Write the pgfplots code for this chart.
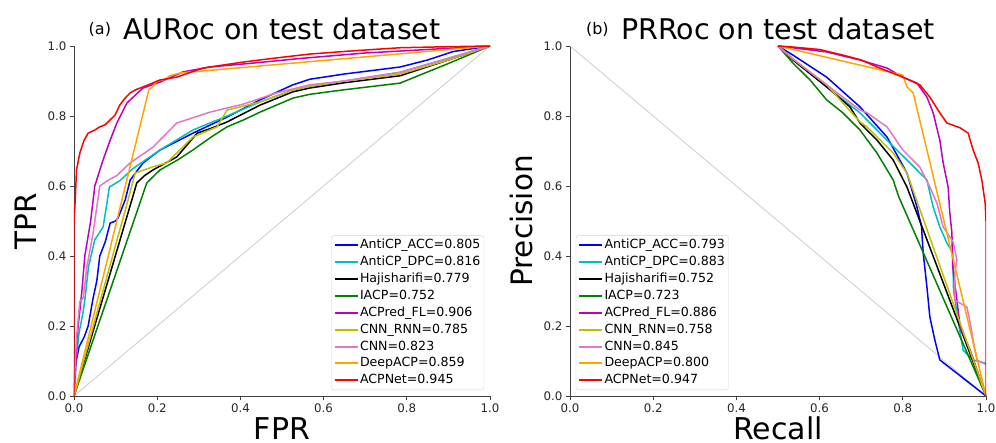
\documentclass[border=0pt]{standalone}
\usepackage{fontspec}
\setmainfont{DejaVu Sans}
\usepackage{pgfplots}
\pgfplotsset{compat=1.18}
\definecolor{lnblue}{rgb}{0,0,1}
\definecolor{lncyan}{rgb}{0,0.75,0.75}
\definecolor{lnblack}{rgb}{0,0,0}
\definecolor{lngreen}{rgb}{0,0.5,0}
\definecolor{lnmag}{rgb}{0.75,0,0.75}
\definecolor{lnolive}{rgb}{0.75,0.75,0}
\definecolor{lnpink}{rgb}{0.89,0.467,0.76}
\definecolor{lnorange}{rgb}{1,0.647,0}
\definecolor{lnred}{rgb}{1,0,0}
\definecolor{ticktext}{rgb}{0.15,0.15,0.15}
\pgfplotsset{
  panel/.style={
    scale only axis, width=416bp, height=350bp,
    xmin=0, xmax=1, ymin=0, ymax=1,
    clip mode=individual,
    axis x line*=bottom, axis y line*=left,
    axis line style={line width=0.9bp, black!75},
    tick align=outside, major tick length=4bp,
    tick style={line width=0.9bp, black!75},
    xtick={0,0.2,0.4,0.6,0.8,1}, ytick={0,0.2,0.4,0.6,0.8,1},
    /pgf/number format/assume math mode=true,
    /pgf/number format/fixed, /pgf/number format/fixed zerofill, /pgf/number format/precision=1,
    ticklabel style={font=\fontsize{11.8bp}{13bp}\selectfont, text=ticktext},
    xlabel style={at={(axis description cs:0.5,-0.125)}, anchor=base, font=\fontsize{30bp}{36bp}\selectfont},
    ylabel style={at={(axis description cs:-0.089,0.5)}, anchor=base, font=\fontsize{29.5bp}{36bp}\selectfont},
    every axis plot/.append style={line width=1.5bp},
    legend cell align=left,
    legend image code/.code={\draw[#1, line width=2bp] (0bp,0bp) -- (23bp,0bp);},
    legend style={font=\fontsize{12.6bp}{15bp}\selectfont, draw=black!18, rounded corners=2.5bp,
      inner xsep=2bp, inner ysep=2bp, row sep=1.9bp, fill=white,
      nodes={inner sep=1.5bp, text height=9.5bp, text depth=2.5bp}},
  }
}
\begin{document}
\begin{tikzpicture}
\path[use as bounding box] (-74bp,-47bp) rectangle (922bp,396bp);
\begin{axis}[panel, xlabel={FPR}, ylabel={TPR},
  legend style={at={(axis description cs:0.986,0.017)}, anchor=south east}]
\addplot[black!20, line width=0.8bp, forget plot] coordinates {(0,0)(1,1)};
\addplot[lnblue] coordinates {(0,0)(0.002,0.08)(0.012,0.14)(0.025,0.17)(0.034,0.2)(0.046,0.28)(0.055,0.33)(0.062,0.4)(0.075,0.44)(0.087,0.494)(0.1,0.5)(0.106,0.509)(0.123,0.56)(0.135,0.617)(0.166,0.666)(0.207,0.703)(0.286,0.751)(0.368,0.797)(0.447,0.846)(0.526,0.889)(0.567,0.905)(0.65,0.92)(0.784,0.94)(0.85,0.96)(0.911,0.984)(1,1)};
\addlegendentry{AntiCP\_ACC=0.805}
\addplot[lncyan] coordinates {(0,0)(0.005,0.1)(0.012,0.18)(0.022,0.24)(0.026,0.274)(0.035,0.37)(0.05,0.446)(0.07,0.483)(0.079,0.55)(0.085,0.597)(0.11,0.615)(0.142,0.65)(0.207,0.703)(0.286,0.76)(0.368,0.80)(0.447,0.84)(0.526,0.874)(0.567,0.885)(0.65,0.9)(0.784,0.925)(0.9,0.965)(1,1)};
\addlegendentry{AntiCP\_DPC=0.816}
\addplot[lnblack] coordinates {(0,0)(0.139,0.56)(0.151,0.609)(0.17,0.63)(0.19,0.646)(0.247,0.683)(0.296,0.751)(0.33,0.765)(0.368,0.783)(0.447,0.831)(0.526,0.869)(0.567,0.88)(0.65,0.895)(0.784,0.915)(0.9,0.96)(1,1)};
\addlegendentry{Hajisharifi=0.779}
\addplot[lngreen] coordinates {(0,0)(0.175,0.609)(0.207,0.646)(0.25,0.675)(0.286,0.703)(0.33,0.74)(0.368,0.769)(0.41,0.79)(0.447,0.811)(0.526,0.851)(0.567,0.862)(0.65,0.875)(0.784,0.894)(0.9,0.95)(1,1)};
\addlegendentry{IACP=0.752}
\addplot[lnmag] coordinates {(0,0)(0.004,0.08)(0.007,0.16)(0.01,0.2)(0.019,0.3)(0.026,0.4)(0.04,0.5)(0.05,0.6)(0.07,0.675)(0.087,0.731)(0.103,0.78)(0.127,0.837)(0.166,0.88)(0.207,0.897)(0.262,0.926)(0.327,0.94)(0.42,0.95)(0.55,0.965)(0.7,0.98)(0.85,0.99)(1,1)};
\addlegendentry{ACPred\_FL=0.906}
\addplot[lnolive] coordinates {(0,0)(0.13,0.56)(0.147,0.637)(0.19,0.655)(0.223,0.666)(0.286,0.74)(0.344,0.769)(0.368,0.817)(0.447,0.84)(0.526,0.874)(0.567,0.885)(0.65,0.9)(0.784,0.92)(0.9,0.96)(1,1)};
\addlegendentry{CNN\_RNN=0.785}
\addplot[lnpink] coordinates {(0,0)(0.003,0.1)(0.007,0.18)(0.014,0.27)(0.022,0.28)(0.031,0.369)(0.046,0.466)(0.062,0.6)(0.08,0.615)(0.103,0.63)(0.135,0.666)(0.19,0.711)(0.247,0.78)(0.327,0.811)(0.407,0.834)(0.487,0.866)(0.567,0.889)(0.65,0.9)(0.784,0.925)(0.9,0.965)(1,1)};
\addlegendentry{CNN=0.823}
\addplot[lnorange] coordinates {(0,0)(0.18,0.875)(0.19,0.885)(0.2,0.9)(0.22,0.905)(0.23,0.915)(0.255,0.923)(1,1)};
\addlegendentry{DeepACP=0.859}
\addplot[lnred] coordinates {(0,0)(0,0.5)(0.003,0.56)(0.006,0.646)(0.014,0.694)(0.024,0.73)(0.034,0.751)(0.05,0.76)(0.062,0.769)(0.075,0.775)(0.087,0.789)(0.099,0.803)(0.11,0.831)(0.122,0.85)(0.135,0.866)(0.15,0.876)(0.166,0.883)(0.207,0.903)(0.247,0.911)(0.31,0.937)(0.406,0.954)(0.48,0.965)(0.567,0.977)(0.68,0.987)(0.784,0.995)(0.9,0.998)(1,1)};
\addlegendentry{ACPNet=0.945}
\node[anchor=base, inner sep=0pt, font=\fontsize{28.5bp}{32bp}\selectfont] (ta) at ([yshift=6bp]rel axis cs:0.5,1) {AURoc on test dataset};
\node[anchor=base east, inner sep=0pt, font=\fontsize{16bp}{18bp}\selectfont] at ([xshift=-12bp,yshift=5bp]ta.base west) {(a)};
\end{axis}
\begin{axis}[panel, xshift=496bp, xlabel={Recall}, ylabel={Precision},
  legend style={at={(axis description cs:0.014,0.017)}, anchor=south west}]
\addplot[black!20, line width=0.8bp, forget plot] coordinates {(0,1)(1,0)};
\addplot[lnblue] coordinates {(0.5,1)(0.536,0.974)(0.617,0.911)(0.697,0.826)(0.762,0.74)(0.81,0.637)(0.834,0.54)(0.845,0.483)(0.849,0.409)(0.858,0.311)(0.865,0.226)(0.877,0.16)(0.889,0.103)(1,0)};
\addlegendentry{AntiCP\_ACC=0.793}
\addplot[lncyan] coordinates {(0.5,1)(0.536,0.963)(0.617,0.883)(0.697,0.809)(0.762,0.731)(0.817,0.666)(0.858,0.617)(0.873,0.54)(0.889,0.483)(0.906,0.437)(0.92,0.41)(0.922,0.3)(0.938,0.18)(0.945,0.131)(0.969,0.103)(0.998,0.094)(1,0.09)};
\addlegendentry{AntiCP\_DPC=0.883}
\addplot[lnblack] coordinates {(0.5,1)(0.536,0.96)(0.617,0.883)(0.673,0.826)(0.697,0.78)(0.738,0.731)(0.777,0.674)(0.81,0.597)(0.841,0.5)(1,0)};
\addlegendentry{Hajisharifi=0.752}
\addplot[lngreen] coordinates {(0.5,1)(0.536,0.951)(0.577,0.903)(0.617,0.846)(0.656,0.809)(0.697,0.76)(0.738,0.694)(0.777,0.617)(0.79,0.57)(1,0)};
\addlegendentry{IACP=0.723}
\addplot[lnmag] coordinates {(0.5,1)(0.617,0.983)(0.697,0.96)(0.762,0.937)(0.8,0.911)(0.834,0.894)(0.858,0.854)(0.873,0.809)(0.889,0.731)(0.897,0.666)(0.909,0.597)(0.913,0.523)(0.918,0.466)(0.92,0.37)(0.93,0.274)(0.938,0.197)(0.962,0.131)(1,0)};
\addlegendentry{ACPred\_FL=0.886}
\addplot[lnolive] coordinates {(0.5,1)(0.536,0.963)(0.617,0.889)(0.697,0.783)(0.714,0.769)(0.777,0.694)(0.81,0.637)(1,0)};
\addlegendentry{CNN\_RNN=0.758}
\addplot[lnpink] coordinates {(0.5,1)(0.536,0.963)(0.617,0.889)(0.697,0.817)(0.714,0.809)(0.762,0.769)(0.8,0.703)(0.841,0.654)(0.865,0.597)(0.882,0.551)(0.897,0.483)(0.921,0.44)(0.93,0.389)(0.925,0.351)(0.925,0.274)(0.954,0.254)(0.962,0.209)(0.969,0.16)(0.978,0.103)(0.993,0.094)(1,0.09)};
\addlegendentry{CNN=0.845}
\addplot[lnorange] coordinates {(0.5,1)(0.8,0.917)(0.81,0.883)(0.825,0.866)(1,0)};
\addlegendentry{DeepACP=0.800}
\addplot[lnred] coordinates {(0.5,1)(0.536,0.997)(0.6,0.99)(0.656,0.974)(0.7,0.96)(0.738,0.94)(0.8,0.911)(0.841,0.889)(0.865,0.854)(0.889,0.809)(0.906,0.78)(0.938,0.766)(0.957,0.751)(0.969,0.703)(0.981,0.666)(0.99,0.617)(0.998,0.551)(1,0.5)(1,0)};
\addlegendentry{ACPNet=0.947}
\node[anchor=base, inner sep=0pt, font=\fontsize{28.5bp}{32bp}\selectfont] (tb) at ([yshift=6bp]rel axis cs:0.5,1) {PRRoc on test dataset};
\node[anchor=base east, inner sep=0pt, font=\fontsize{16bp}{18bp}\selectfont] at ([xshift=-12bp,yshift=5bp]tb.base west) {(b)};
\end{axis}
\end{tikzpicture}
\end{document}
